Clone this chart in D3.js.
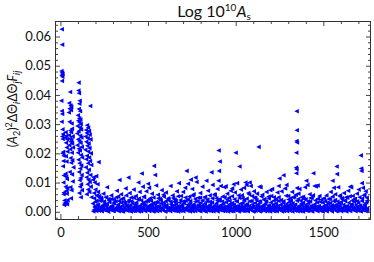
<!DOCTYPE html><meta charset="utf-8"><style>
    body { margin: 0; background: #fff; }
    svg text { font-family: Lato, "Open Sans", sans-serif; fill: #111; }
    .frame { fill: none; stroke: #333; stroke-width: 1; }
    .ax .domain { display: none; }
    .ax line { stroke: #444; }
    .ax text { font-size: 13px; }
</style><svg width="374" height="262"></svg><script src="https://cdn.jsdelivr.net/npm/d3@7"></script><script>

    var width = 374, height = 262;
    var margin = ({top: 21, right: 3, bottom: 43, left: 55});

    // values are in units of 1e-3
    var xTicks = [0, 500, 1000, 1500];
    var xMinorTicks = [100, 200, 300, 400, 600, 700, 800, 900, 1100, 1200, 1300, 1400, 1600, 1700];
    var yTicks = [0, 10, 20, 30, 40, 50, 60];
    var yTickLabels = ["0.00", "0.01", "0.02", "0.03", "0.04", "0.05", "0.06"];
    var yMinorTicks = [-2, 2, 4, 6, 8, 12, 14, 16, 18, 22, 24, 26, 28, 32, 34, 36, 38, 42, 44, 46, 48, 52, 54, 56, 58, 62, 64];

    // first ~200 indices: wide scatter
    var early = [
        [8,62.5],[10,57.2],[6,48.2],[9,47.6],[12,47.2],[7,46.7],[11,46.2],[9,44.8],[5,38.0],[8,34.5],[10,33.5],[7,30.8],
        [12,28.2],[14,26.6],[11,25.8],[13,24.9],[16,20.5],[12,20.0],[18,19.2],[17,17.4],[14,15.6],[19,12.4],[17,10.0],
        [20,6.6],[18,6.0],[23,3.9],[25,3.0],[21,2.3],[24,2.7],
        [30,27.2],[34,26.0],[28,25.4],[38,24.8],[32,23.6],[36,22.0],[40,20.6],[31,19.0],[35,17.2],[29,13.0],[33,12.0],
        [37,11.2],[30,8.6],[39,8.0],[34,7.2],[36,6.2],[32,3.2],[38,2.6],[41,4.0],
        [55,41.0],[50,37.2],[58,36.4],[62,35.9],[53,35.3],[60,34.8],[48,34.0],[64,30.2],[52,30.8],[66,28.4],[57,27.8],
        [61,27.2],[49,26.2],[70,25.8],[54,25.0],[63,24.6],[59,24.0],[67,23.4],[51,22.8],[72,22.0],[56,21.4],[65,20.2],
        [58,18.4],[68,17.6],[61,16.8],[74,15.2],[53,13.6],[66,12.8],[70,10.4],[57,8.4],[63,7.4],[60,4.6],
        [104,44.2],[103,41.5],[106,40.6],[110,38.0],[108,37.0],[105,35.2],[112,34.4],[100,33.0],[107,32.0],[114,31.6],
        [102,31.2],[109,30.6],[116,30.0],[98,29.4],[111,28.8],[118,28.2],[104,27.6],[96,26.8],[113,26.0],[120,25.4],
        [101,24.8],[108,24.2],[115,23.6],[97,22.8],[122,22.2],[105,21.6],[111,21.0],[100,20.2],[117,19.4],[124,18.6],
        [103,17.8],[109,16.6],[119,15.8],[113,14.8],[106,13.6],[121,12.6],[115,11.6],[110,10.8],[118,9.4],[112,8.6],
        [123,7.4],[108,6.4],[116,5.0],
        [170,36.2],[152,29.6],[158,28.8],[146,28.0],[163,27.6],[150,27.0],[167,26.4],[144,25.8],[156,25.2],[172,24.8],
        [148,24.0],[161,23.4],[154,22.6],[166,21.8],[142,21.2],[159,20.6],[174,20.0],[151,19.2],[164,18.6],[147,18.0],
        [169,17.4],[157,16.6],[176,16.0],[145,15.2],[162,14.4],[153,13.4],[171,12.6],[149,11.8],[160,11.0],[167,10.2],
        [155,9.4],[173,8.6],[158,7.6],[165,6.8],[150,6.0],[177,5.0],
        [190,11.8],[186,11.0],[196,10.0],[218,17.0],[204,12.2],[212,9.4],[200,7.6],[192,6.4],[208,5.6],[222,4.8],[215,6.8]
    ];

    // dense low band after ~185
    var band = [
        [185,2.8],[190,0.6],[195,1.9],[200,3.4],[205,0.3],[210,1.2],[215,2.5],[220,0.9],[225,3.8],[230,1.6],
        [235,0.4],[240,2.2],[245,1.1],[250,3.0],[255,0.7],[260,1.8],[265,2.7],[270,0.2],[275,1.4],[280,3.3],
        [285,0.8],[290,2.0],[295,1.3],[300,0.3],[305,2.9],[310,1.0],[315,3.6],[320,0.5],[325,1.7],[330,2.4],
        [335,0.9],[340,1.5],[345,3.1],[350,0.2],[355,2.1],[360,1.2],[365,0.6],[370,2.8],[375,1.9],[380,0.4],
        [385,3.5],[390,1.3],[395,0.7],[400,2.3],[405,1.0],[410,3.0],[415,0.3],[420,1.8],[425,2.6],[430,0.8],
        [435,1.4],[440,4.2],[445,0.5],[450,2.0],[455,1.1],[460,0.2],[465,2.7],[470,1.6],[475,3.2],[480,0.6],
        [485,2.2],[490,0.9],[495,1.5],[500,3.7],[505,0.4],[510,1.9],[515,2.5],[520,0.7],[525,1.2],[530,3.0],
        [535,0.3],[540,2.4],[545,1.0],[550,1.7],[555,3.3],[560,0.6],[565,2.0],[570,0.9],[575,2.9],[580,1.4],
        [585,0.5],[590,3.1],[595,1.8],[600,0.2],[605,2.3],[610,1.1],[615,4.0],[620,0.7],[625,1.6],[630,2.6],
        [635,0.9],[640,2.0],[645,0.4],[650,3.4],[655,1.3],[660,2.7],[665,0.6],[670,1.9],[675,1.0],[680,3.2],
        [685,0.3],[690,2.2],[695,1.5],[700,0.8],[705,2.9],[710,1.2],[715,3.8],[720,0.5],[725,2.4],[730,1.7],
        [735,0.7],[740,3.0],[745,1.1],[750,2.0],[755,0.2],[760,2.6],[765,1.4],[770,3.5],[775,0.9],[780,1.8],
        [785,2.3],[790,0.4],[795,1.6],[800,3.1],[805,0.8],[810,2.1],[815,1.0],[820,0.3],[825,2.8],[830,1.5],
        [835,3.6],[840,0.6],[845,1.9],[850,1.2],[855,2.5],[860,0.2],[865,3.2],[870,1.4],[875,0.7],[880,2.2],
        [885,1.0],[890,2.9],[895,0.4],[900,1.7],[905,3.9],[910,0.8],[915,2.3],[920,1.3],[925,0.5],[930,2.7],
        [935,1.6],[940,0.3],[945,3.3],[950,1.1],[955,2.0],[960,0.7],[965,2.6],[970,1.5],[975,0.2],[980,3.0],
        [985,1.2],[990,2.4],[995,0.6],[1000,1.8],[1005,3.5],[1010,0.9],[1015,2.1],[1020,0.4],[1025,1.4],[1030,2.8],
        [1035,0.8],[1040,3.1],[1045,1.6],[1050,0.3],[1055,2.2],[1060,1.0],[1065,2.7],[1070,0.5],[1075,1.9],[1080,3.6],
        [1085,1.3],[1090,0.6],[1095,2.5],[1100,1.7],[1105,0.2],[1110,3.0],[1115,1.1],[1120,2.0],[1125,0.8],[1130,2.6],
        [1135,1.5],[1140,3.4],[1145,0.4],[1150,1.9],[1155,1.0],[1160,2.3],[1165,0.7],[1170,2.9],[1175,1.2],[1180,0.3],
        [1185,2.1],[1190,1.4],[1195,0.6],[1200,3.2],[1205,1.8],[1210,0.9],[1215,2.5],[1220,0.2],[1225,1.6],[1230,2.8],
        [1235,0.5],[1240,1.9],[1245,3.7],[1250,1.1],[1255,2.4],[1260,0.7],[1265,1.5],[1270,3.0],[1275,0.3],[1280,2.0],
        [1285,1.2],[1290,2.7],[1295,0.8],[1300,1.7],[1305,3.3],[1310,0.4],[1315,2.2],[1320,1.0],[1325,2.9],[1330,1.4],
        [1335,0.6],[1340,2.5],[1345,1.3],[1350,3.8],[1355,0.9],[1360,2.0],[1365,1.6],[1370,0.2],[1375,2.8],[1380,1.1],
        [1385,3.1],[1390,0.7],[1395,1.8],[1400,2.4],[1405,0.4],[1410,1.2],[1415,2.9],[1420,0.8],[1425,3.5],[1430,1.5],
        [1435,0.3],[1440,2.1],[1445,1.0],[1450,2.6],[1455,0.6],[1460,1.7],[1465,3.2],[1470,0.9],[1475,2.0],[1480,1.3],
        [1485,0.5],[1490,1.4],[1495,0.2],[1500,1.9],[1505,0.8],[1510,1.1],[1515,2.3],[1520,0.4],[1525,1.6],[1530,2.7],
        [1535,1.0],[1540,3.0],[1545,0.6],[1550,2.2],[1555,1.4],[1560,3.6],[1565,0.8],[1570,1.9],[1575,2.5],[1580,0.3],
        [1585,1.7],[1590,2.8],[1595,0.9],[1600,3.3],[1605,1.2],[1610,0.5],[1615,2.4],[1620,1.6],[1625,3.9],[1630,0.7],
        [1635,2.0],[1640,1.1],[1645,3.1],[1650,0.4],[1655,1.8],[1660,2.6],[1665,0.8],[1670,1.4],[1675,3.4],[1680,1.0],
        [1685,2.3],[1690,0.6],[1695,1.5],[1700,3.0],[1705,0.9],[1710,2.1],[1715,1.3],[1720,3.7],[1725,0.5],[1730,1.9],
        [1735,2.6],[1740,1.0],[1745,3.2],[1750,0.4]
    ];

    // second layer of the band, mostly near zero
    var bandLow = [
        [188,0.1],[196,1.4],[204,0.7],[212,2.1],[219,0.4],[227,1.0],[236,0.2],[243,1.7],[251,0.5],[258,2.4],
        [266,0.9],[273,0.1],[282,1.5],[289,0.6],[297,2.0],[304,0.3],[312,1.1],[318,0.8],[327,2.3],[333,0.2],
        [342,1.6],[349,0.5],[357,0.1],[364,1.2],[372,0.7],[379,2.2],[387,0.4],[394,1.9],[402,0.1],[409,0.9],
        [417,1.3],[424,0.3],[432,2.0],[439,0.8],[447,0.1],[454,1.6],[462,0.5],[469,1.1],[477,2.4],[484,0.2],
        [492,0.7],[499,1.8],[507,0.3],[514,1.0],[522,2.1],[529,0.1],[537,1.4],[544,0.6],[552,0.2],[559,1.9],
        [567,0.4],[574,1.2],[582,0.8],[589,2.2],[597,0.1],[604,1.5],[612,0.5],[619,1.0],[627,0.2],[634,1.7],
        [642,0.7],[649,2.3],[657,0.3],[664,1.1],[672,0.1],[679,1.6],[687,0.6],[694,2.0],[702,0.2],[709,0.9],
        [717,1.4],[724,0.4],[732,2.1],[739,0.1],[747,1.2],[754,0.8],[762,1.8],[769,0.3],[777,1.0],[784,0.5],
        [792,2.4],[799,0.2],[807,1.3],[814,0.7],[822,1.9],[829,0.1],[837,1.1],[844,0.4],[852,2.2],[859,0.6],
        [867,1.5],[874,0.2],[882,0.9],[889,1.7],[897,0.1],[904,1.2],[912,0.5],[919,2.0],[927,0.3],[934,1.0],
        [942,0.7],[949,1.8],[957,0.1],[964,1.4],[972,0.4],[979,2.3],[987,0.2],[994,1.1],[1002,0.6],[1009,1.6],
        [1017,0.1],[1024,0.9],[1032,1.9],[1039,0.3],[1047,1.3],[1054,0.5],[1062,2.1],[1069,0.2],[1077,1.0],[1084,0.7],
        [1092,1.7],[1099,0.1],[1107,1.2],[1114,0.4],[1122,2.2],[1129,0.6],[1137,0.1],[1144,1.5],[1152,0.8],[1159,1.9],
        [1167,0.2],[1174,1.1],[1182,0.5],[1189,2.0],[1197,0.1],[1204,1.3],[1212,0.4],[1219,0.9],[1227,1.8],[1234,0.2],
        [1242,1.4],[1249,0.6],[1257,2.3],[1264,0.1],[1272,1.0],[1279,0.5],[1287,1.6],[1294,0.2],[1302,2.1],[1309,0.7],
        [1317,1.2],[1324,0.1],[1332,1.9],[1339,0.4],[1347,1.0],[1354,0.2],[1362,1.5],[1369,0.8],[1377,2.2],[1384,0.1],
        [1392,1.1],[1399,0.5],[1407,1.8],[1414,0.3],[1422,0.9],[1429,2.0],[1437,0.1],[1444,1.4],[1452,0.6],[1459,1.2],
        [1467,0.2],[1474,1.7],[1482,0.4],[1489,0.9],[1497,0.1],[1504,1.3],[1512,0.5],[1519,0.2],[1527,1.0],[1534,0.7],
        [1542,1.6],[1549,0.1],[1557,1.1],[1564,2.1],[1572,0.3],[1579,1.4],[1587,0.6],[1594,2.0],[1602,0.2],[1609,1.2],
        [1617,0.5],[1624,1.8],[1632,0.1],[1639,0.9],[1647,1.5],[1654,0.3],[1662,2.2],[1669,0.7],[1677,1.1],[1684,0.2],
        [1692,1.6],[1699,0.4],[1707,2.0],[1714,0.1],[1722,1.3],[1729,0.6],[1737,1.9],[1744,0.2],[1750,1.1]
    ];

    // fuzzy upper edge of the band
    var bandHigh = [
        [193,4.6],[207,3.8],[221,5.4],[234,4.1],[248,3.5],[262,4.9],[277,3.9],[291,4.4],[306,3.3],[319,5.0],
        [334,3.7],[348,4.3],[362,3.4],[376,5.6],[391,4.0],[405,3.6],[419,4.8],[433,3.2],[448,4.5],[461,3.9],
        [476,5.2],[489,3.5],[503,4.2],[517,3.8],[531,4.9],[545,3.3],[559,4.6],[573,3.9],[587,5.8],[601,3.6],
        [616,4.3],[629,3.4],[643,4.7],[658,3.8],[671,5.3],[685,4.0],[699,3.5],[713,4.9],[727,4.2],[741,3.7],
        [755,5.5],[769,4.4],[783,3.6],[797,4.8],[811,3.9],[826,5.1],[839,4.2],[853,3.4],[867,4.6],[881,5.7],
        [895,3.8],[909,4.4],[923,3.5],[937,5.0],[951,4.1],[965,3.7],[979,5.3],[993,4.3],[1007,3.6],[1021,4.7],
        [1035,5.6],[1049,3.9],[1063,4.5],[1077,5.9],[1091,3.7],[1105,4.8],[1119,4.0],[1133,3.5],[1147,5.2],[1161,4.1],
        [1175,3.6],[1189,4.6],[1203,5.4],[1217,3.8],[1231,4.3],[1245,5.0],[1259,4.0],[1273,3.6],[1287,5.5],[1301,4.2],
        [1315,3.7],[1329,4.9],[1343,5.8],[1357,4.4],[1371,3.8],[1385,5.1],[1399,4.3],[1413,3.6],[1427,4.7],[1441,5.6],
        [1455,3.9],[1469,4.5],[1483,3.4],[1497,3.1],[1511,3.6],[1525,3.2],[1539,4.4],[1553,5.2],[1567,4.0],[1581,3.5],
        [1595,5.6],[1609,4.2],[1623,3.7],[1637,4.8],[1651,5.3],[1665,3.9],[1679,4.4],[1693,3.6],[1707,5.0],[1721,4.5],
        [1735,5.9],[1749,3.8]
    ];

    // sparse points above the band
    var sparse = [
        [232,4.8],[245,6.2],[258,5.0],[266,8.4],[274,4.4],[290,5.6],[305,4.2],[322,7.2],[330,5.2],[337,10.9],[346,6.0],
        [358,4.6],[372,8.0],[388,11.7],[395,6.4],[404,4.9],[418,7.6],[430,5.4],[445,10.0],[452,6.8],[464,13.1],[470,8.6],
        [478,5.0],[490,7.0],[500,9.6],[506,8.2],[512,4.6],[522,6.2],[534,15.7],[540,12.6],[546,9.0],[556,5.8],[568,4.4],
        [578,7.4],[590,5.2],[602,6.6],[615,4.6],[628,8.8],[640,5.6],[652,4.2],[664,7.0],[676,9.8],[688,5.4],[700,6.8],
        [712,8.2],[720,14.0],[728,9.6],[736,5.2],[744,11.0],[752,7.8],[760,6.0],[771,11.7],[777,10.2],[786,4.8],[798,6.4],
        [810,8.6],[822,5.0],[833,10.6],[842,7.2],[852,5.6],[862,13.5],[868,9.2],[878,6.0],[890,4.6],[896,7.8],[902,10.6],
        [903,21.0],[905,14.0],[909,17.2],[915,8.8],[926,5.2],[935,8.4],[943,8.7],[952,6.2],[962,4.8],[972,7.2],[980,8.0],
        [988,9.4],[995,6.6],[1000,20.2],[1008,9.8],[1016,5.6],[1022,15.5],[1030,7.6],[1040,4.6],[1048,8.2],[1056,10.0],
        [1062,9.2],[1072,6.4],[1080,10.0],[1086,8.8],[1094,5.4],[1104,7.0],[1112,4.8],[1122,6.2],[1131,22.2],[1136,8.6],
        [1142,8.4],[1152,5.8],[1164,4.4],[1176,6.8],[1188,5.2],[1198,7.4],[1208,7.8],[1218,5.0],[1228,4.2],[1238,6.6],
        [1245,8.8],[1250,11.4],[1262,7.0],[1273,12.5],[1282,8.0],[1290,9.2],[1300,5.4],[1312,4.6],[1322,6.8],[1334,5.2],
        [1348,34.4],[1349,27.9],[1347,24.2],[1350,23.7],[1346,20.2],[1345,15.1],[1347,14.6],[1346,13.2],[1350,8.1],
        [1358,6.2],[1364,7.8],[1376,5.0],[1388,4.4],[1396,8.4],[1403,10.6],[1410,9.2],[1422,6.0],[1434,4.8],[1443,13.2],
        [1450,8.8],[1458,8.7],[1468,9.0],[1478,5.4],[1490,4.2],[1504,4.6],[1518,5.6],[1530,4.4],[1542,6.8],[1553,10.6],
        [1560,8.2],[1568,6.0],[1576,15.5],[1578,12.9],[1585,8.4],[1596,5.2],[1606,4.6],[1618,6.4],[1630,5.0],[1642,7.2],
        [1653,8.6],[1659,8.4],[1668,5.4],[1680,4.4],[1692,6.2],[1702,7.6],[1714,19.3],[1716,14.8],[1718,14.0],[1720,9.8],
        [1726,8.2],[1732,5.6],[1742,7.0],[1748,4.8]
    ];

    var points = early.concat(band, bandLow, bandHigh, sparse);

    var x = d3.scaleLinear()
        .domain([-31, 1772])
        .range([margin.left, width - margin.right]);

    var y = d3.scaleLinear()
        .domain([-2.47, 65.3])
        .range([height - margin.bottom, margin.top]);

    const svg = d3.select("svg")
        .attr("viewBox", [0, 0, width, height]);

    // points: left-pointing triangles
    svg.append("g")
        .attr("fill", "#0000ff")
        .selectAll("path")
        .data(points)
        .join("path")
        .attr("d", "M-2.4,0L2.1,-2.3L2.1,2.3Z")
        .attr("transform", d => `translate(${x(d[0])},${y(d[1])})`);

    // axes, ticks inward on all four sides
    var x0 = height - margin.bottom, x1 = margin.top;
    var yl = margin.left, yr = width - margin.right;

    svg.append("g").attr("class", "ax")
        .attr("transform", `translate(0,${x0})`)
        .call(d3.axisBottom(x).tickValues(xTicks).tickSize(-5).tickPadding(9).tickFormat(d3.format("d")));
    svg.append("g").attr("class", "ax")
        .attr("transform", `translate(0,${x0})`)
        .call(d3.axisBottom(x).tickValues(xMinorTicks).tickSize(-3).tickFormat(""));
    svg.append("g").attr("class", "ax")
        .attr("transform", `translate(0,${x1})`)
        .call(d3.axisTop(x).tickValues(xTicks).tickSize(-5).tickFormat(""));
    svg.append("g").attr("class", "ax")
        .attr("transform", `translate(0,${x1})`)
        .call(d3.axisTop(x).tickValues(xMinorTicks).tickSize(-3).tickFormat(""));

    svg.append("g").attr("class", "ax")
        .attr("transform", `translate(${yl},0)`)
        .call(d3.axisLeft(y).tickValues(yTicks).tickSize(-5).tickPadding(4)
            .tickFormat((d, i) => yTickLabels[i]));
    svg.append("g").attr("class", "ax")
        .attr("transform", `translate(${yl},0)`)
        .call(d3.axisLeft(y).tickValues(yMinorTicks).tickSize(-3).tickFormat(""));
    svg.append("g").attr("class", "ax")
        .attr("transform", `translate(${yr},0)`)
        .call(d3.axisRight(y).tickValues(yTicks).tickSize(-5).tickFormat(""));
    svg.append("g").attr("class", "ax")
        .attr("transform", `translate(${yr},0)`)
        .call(d3.axisRight(y).tickValues(yMinorTicks).tickSize(-3).tickFormat(""));

    svg.append("rect")
        .attr("class", "frame")
        .attr("x", yl + 0.5).attr("y", x1 + 0.5)
        .attr("width", yr - yl - 1).attr("height", x0 - x1);

    // title
    var title = svg.append("text")
        .attr("x", (yl + yr) / 2 + 1)
        .attr("y", 17)
        .attr("text-anchor", "middle")
        .style("font-size", "16px");
    title.append("tspan").text("Log 10");
    title.append("tspan").attr("dy", -6).style("font-size", "10px").text("10");
    title.append("tspan").attr("dy", 6).style("font-style", "italic").text("A");
    title.append("tspan").attr("dy", 3).style("font-size", "10px").text("s");

    // y label
    var ylab = svg.append("text")
        .attr("transform", `translate(17,${(x0 + x1) / 2 - 11}) rotate(-90)`)
        .attr("text-anchor", "middle")
        .style("font-size", "12.5px");
    ylab.append("tspan").text("(");
    ylab.append("tspan").style("font-style", "italic").text("A");
    ylab.append("tspan").attr("dy", 3).style("font-size", "9px").text("2");
    ylab.append("tspan").attr("dy", -3).text(")");
    ylab.append("tspan").attr("dy", -5).style("font-size", "9px").text("2");
    ylab.append("tspan").attr("dy", 5).text("\u0394\u0398");
    ylab.append("tspan").attr("dy", 3).style("font-size", "9px").style("font-style", "italic").text("i");
    ylab.append("tspan").attr("dy", -3).text("\u0394\u0398");
    ylab.append("tspan").attr("dy", 3).style("font-size", "9px").style("font-style", "italic").text("j");
    ylab.append("tspan").attr("dy", -3).style("font-style", "italic").text("F");
    ylab.append("tspan").attr("dy", 3).style("font-size", "9px").style("font-style", "italic").text("ij");

</script>
